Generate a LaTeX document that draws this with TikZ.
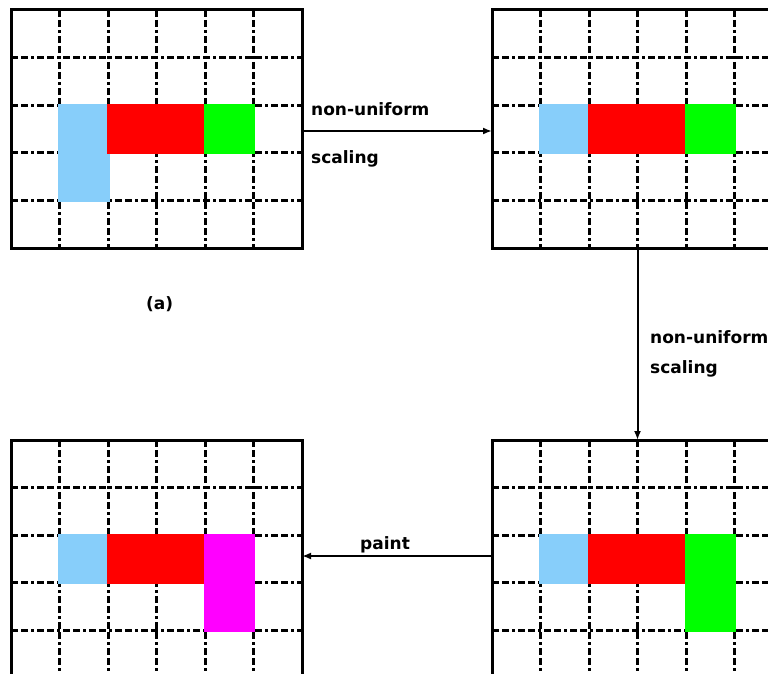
\documentclass[tikz,border=0pt]{standalone}
\usepackage{fontspec}
\setmainfont{DejaVu Sans}
\usetikzlibrary{arrows.meta}
\definecolor{cellblue}{RGB}{135,206,250}
\definecolor{cellred}{RGB}{255,0,0}
\definecolor{cellgreen}{RGB}{0,255,0}
\definecolor{cellmagenta}{RGB}{255,0,255}

% grid of 6x5 cells with dash-dot rulings
\newcommand\cellgrid{%
  \foreach \i in {1,...,5} \draw[gridline] (\i,0) -- (\i,5);
  \foreach \j in {1,...,4} \draw[gridline] (0,\j) -- (6,\j);
}

\begin{document}
\begin{tikzpicture}[x=1pt,y=-1pt,
  panel/.style={draw, line width=3pt, minimum width=291pt, minimum height=238pt,
                inner sep=0pt, outer sep=0pt, anchor=north west},
  gridline/.style={line width=3pt, dash pattern=on 7pt off 3pt on 7pt off 3pt on 3pt off 3pt},
  cell/.style={fill=#1, draw=#1, line width=3pt},
  conn/.style={line width=2pt, -{Latex[length=9pt,width=7pt]}},
  lbl/.style={font=\fontsize{17}{20}\selectfont\bfseries, anchor=base west, inner sep=0pt}]
\useasboundingbox (0,0) rectangle (768,674);
\clip (0,0) rectangle (768,674);

% panel A: original
\begin{scope}[shift={(11,10)}, x=48.5pt, y=-47.6pt]
  \cellgrid
  \path[cell=cellblue] (1,2) rectangle (2,4);
  \path[cell=cellred] (2,2) rectangle (4,3);
  \path[cell=cellgreen] (4,2) rectangle (5,3);
  \node[panel] (A) at (0,0) {};
\end{scope}

% panel B
\begin{scope}[shift={(492,10)}, x=48.5pt, y=-47.6pt]
  \cellgrid
  \path[cell=cellblue] (1,2) rectangle (2,3);
  \path[cell=cellred] (2,2) rectangle (4,3);
  \path[cell=cellgreen] (4,2) rectangle (5,3);
  \node[panel] (B) at (0,0) {};
\end{scope}

% panel C
\begin{scope}[shift={(11,440)}, x=48.5pt, y=-47.6pt]
  \cellgrid
  \path[cell=cellblue] (1,2) rectangle (2,3);
  \path[cell=cellred] (2,2) rectangle (4,3);
  \path[cell=cellmagenta] (4,2) rectangle (5,4);
  \node[panel] (C) at (0,0) {};
\end{scope}

% panel D
\begin{scope}[shift={(492,440)}, x=48.5pt, y=-47.6pt]
  \cellgrid
  \path[cell=cellblue] (1,2) rectangle (2,3);
  \path[cell=cellred] (2,2) rectangle (4,3);
  \path[cell=cellgreen] (4,2) rectangle (5,4);
  \node[panel] (D) at (0,0) {};
\end{scope}

% transitions
\draw[conn] ([yshift=-2pt]A.east) -- ([yshift=-2pt]B.west);
\draw[conn] (B.south) -- (D.north);
\draw[conn] ([yshift=3pt]D.west) -- ([yshift=3pt]C.east);

% labels
\node[lbl] (l1) at (311,116) {non-uniform};
\node[lbl] (l2) at (311,164) {scaling};
\node[lbl] (l3) at (650,343) {non-uniform};
\node[lbl] (l4) at (650,373) {scaling};
\node[lbl] (l5) at (360,549) {paint};
\node[lbl] (l6) at (146,309) {(a)};
\end{tikzpicture}
\end{document}
